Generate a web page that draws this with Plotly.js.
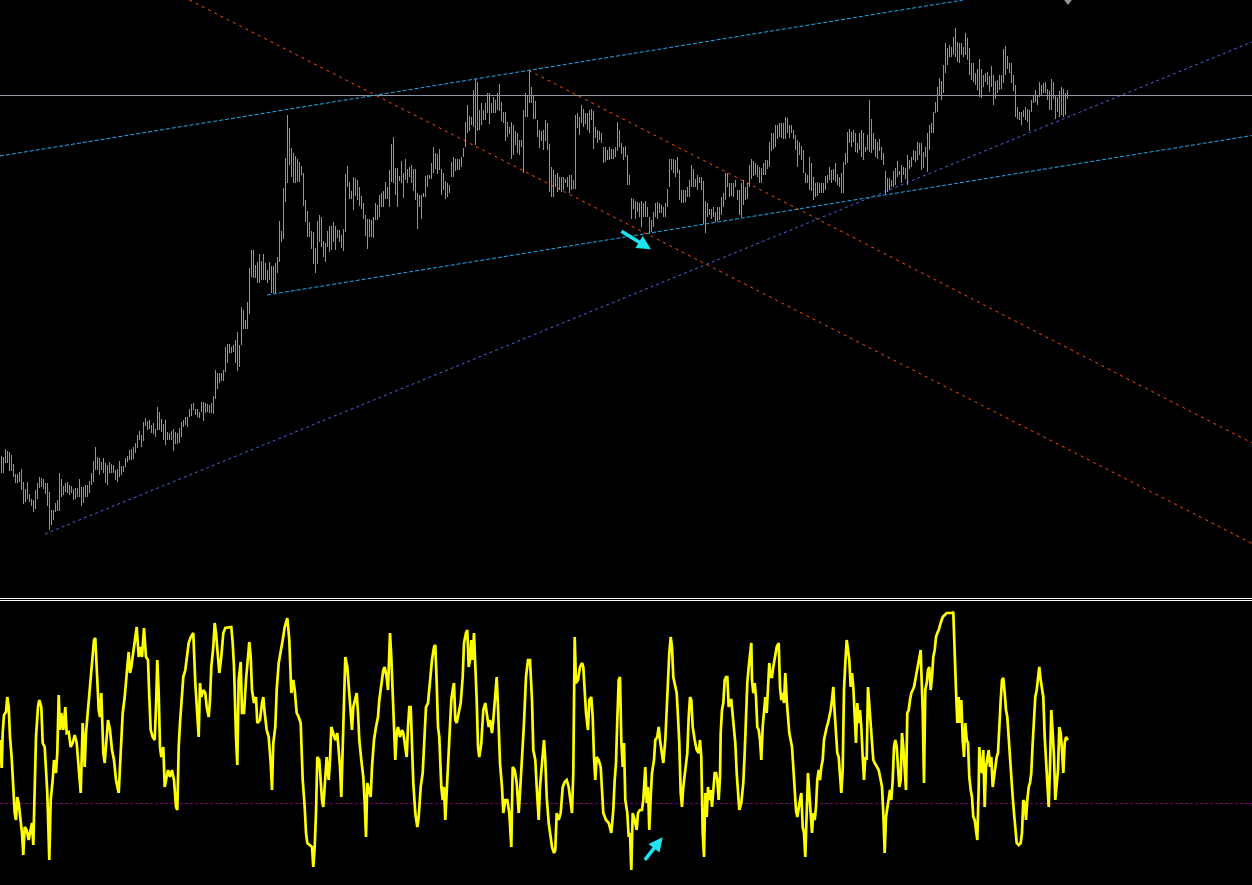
<!DOCTYPE html>
<html><head><meta charset="utf-8">
<script src="https://cdn.plot.ly/plotly-3.0.1.min.js"></script>
<style>html,body{margin:0;padding:0;background:#000;overflow:hidden}#chart{width:1252px;height:885px}</style>
</head><body><div id="chart"></div>
<script>
// ---- price bars (screen-price units, axis reversed: smaller = higher) ----
const highs = [
456,457,449,451,452,455,464,474,474,472,
469,482,489,482,494,499,500,490,483,477,
478,479,483,483,492,510,510,503,500,473,
479,486,483,482,485,486,489,488,488,479,
487,487,485,485,481,473,461,447,457,458,
462,458,463,465,462,464,465,470,469,461,
466,466,458,456,450,449,447,443,435,431,
435,422,418,421,420,425,423,429,407,412,
419,424,420,432,433,431,429,432,433,428,
422,420,417,417,409,404,403,409,409,412,
402,402,403,404,405,403,396,370,373,373,
373,370,347,344,344,347,345,340,332,345,
307,310,320,302,268,250,250,265,262,254,
261,254,263,270,262,266,266,263,257,221,
231,188,158,115,128,148,153,156,159,162,
166,173,200,211,222,231,232,248,221,215,
217,241,243,231,226,226,222,226,230,230,
235,229,174,166,182,191,177,178,180,187,
196,203,215,219,219,220,217,203,205,195,
193,191,182,187,170,144,137,168,168,176,
161,173,159,169,167,165,169,169,193,195,
195,193,176,175,175,163,147,153,154,149,
169,173,181,183,185,162,157,159,159,159,
157,148,122,105,116,117,90,79,82,110,
103,110,103,93,93,103,97,100,93,84,
102,112,112,122,127,122,125,131,133,140,
140,110,93,95,70,87,95,101,120,130,
131,130,120,123,144,167,170,175,173,177,
177,177,179,177,175,175,180,115,113,117,
105,109,113,113,110,109,111,127,130,131,
133,147,147,150,147,149,149,147,122,130,
143,147,146,155,175,198,199,201,202,203,
201,203,201,207,217,220,212,203,202,203,
205,207,203,189,159,159,159,160,157,170,
190,190,190,187,180,165,169,179,175,177,
177,181,201,203,209,209,207,212,207,207,
197,193,173,173,183,183,183,180,190,190,
183,180,187,183,165,159,161,163,165,167,
168,163,160,160,142,133,133,125,125,123,
123,123,117,118,125,125,130,135,140,142,
146,150,173,175,157,163,177,183,182,183,
183,183,176,175,167,170,169,163,174,177,
173,162,153,132,129,132,130,133,143,133,
130,133,147,135,100,119,133,139,142,139,
147,153,171,178,178,180,171,168,161,171,
165,167,168,155,160,157,150,151,142,143,
143,152,147,133,125,123,112,102,87,78,
81,65,43,48,45,47,37,28,42,43,
43,47,33,38,48,63,63,73,69,59,
69,75,73,72,76,66,75,81,80,75,
75,49,46,56,63,63,75,85,107,112,
112,110,107,109,110,100,95,90,95,82,
85,83,82,89,91,79,82,95,97,91,
87,89,93,90];
const lows = [
473,473,463,463,471,471,477,483,483,482,
490,504,502,499,502,506,512,509,499,488,
487,489,494,506,530,525,520,512,511,511,
497,495,492,493,495,493,500,499,497,497,
506,503,497,497,493,485,482,470,470,475,
470,473,483,485,473,473,473,480,482,477,
475,472,467,462,460,460,459,453,448,440,
447,441,426,430,429,433,434,437,430,430,
432,440,445,440,440,440,451,444,444,443,
437,427,425,427,417,416,410,415,417,418,
412,421,413,412,413,413,414,399,389,383,
381,381,372,363,353,353,352,363,371,367,
345,329,329,329,314,277,278,278,283,283,
280,280,280,283,280,293,293,293,273,262,
242,239,202,183,165,177,183,183,182,182,
175,206,222,237,237,249,264,273,264,242,
247,257,262,247,252,250,242,250,238,242,
248,251,232,187,199,199,210,196,200,206,
209,219,236,249,237,237,238,220,220,217,
207,207,199,199,207,182,183,195,207,181,
183,198,180,183,177,183,191,200,229,207,
219,197,197,187,179,179,173,169,174,170,
195,190,199,197,193,177,177,171,170,170,
167,157,147,133,131,125,127,145,131,130,
125,120,120,113,124,113,113,113,110,111,
121,123,141,137,134,159,155,145,153,155,
147,173,117,117,103,103,119,119,137,148,
141,150,141,150,192,197,197,187,192,190,
192,190,183,187,193,190,189,189,128,135,
123,127,124,130,133,120,149,138,143,140,
143,163,162,160,160,159,159,157,151,147,
154,160,157,185,185,219,209,219,212,217,
227,217,217,217,234,232,227,217,219,213,
213,217,217,207,187,170,173,177,173,200,
203,203,202,197,197,187,187,187,190,183,
190,224,233,217,215,219,217,222,221,220,
215,207,200,187,197,196,197,187,200,215,
217,205,200,199,187,179,176,175,177,183,
183,175,175,169,167,151,149,147,139,137,
138,139,139,133,138,133,139,150,167,155,
160,173,183,183,190,191,200,197,196,193,
193,193,190,183,180,183,180,182,185,187,
193,193,165,163,143,147,142,152,153,150,
157,160,152,150,152,153,150,157,159,151,
160,165,194,192,190,187,187,185,177,175,
183,175,179,185,169,167,160,162,160,155,
170,168,157,172,150,133,133,113,112,95,
100,93,73,65,57,57,55,57,62,63,
55,57,55,60,75,80,82,85,90,97,
98,87,82,85,92,87,105,99,93,90,
89,83,75,69,73,83,91,117,119,120,
125,117,120,122,131,112,103,102,105,97,
95,93,93,100,110,110,99,119,112,117,
115,117,115,99];

// ---- oscillator (time position, value) ----
const oscPoints = [
[0,740],[1.7,768],[2.7,733],[4,715],[6,712],[7.3,697],[8.7,707],[10,737],[11.7,758],[13.3,793],[14.7,813],[16,820],[17.3,797],[18.7,803],[20,813],[22,833],[23.3,855],[24.7,827],[26.7,830],[28.7,840],[30,833],[32,823],[33.3,845],[34.7,770],[36,737],[38,707],[39.3,700],[41.3,707],[42.7,743],[44.7,747],[46,767],[47.3,793],[49.3,860],[50.7,800],[52.7,780],[54,760],[56,773],[57.3,753],[58.7,695],[60,730],[61.3,713],[63.3,730],[65.3,707],[66.7,733],[68.7,732],[70.7,747],[72.7,743],[74.7,735],[76.7,743],[78.7,773],[80.7,793],[82.7,723],[84.7,767],[86,733],[88,710],[90,687],[92,657],[94,640],[95.3,638],[96.7,670],[98.7,710],[100,717],[101.3,693],[103.3,753],[104.7,763],[106.7,737],[108,720],[110,730],[112,750],[114,760],[116,780],[118.7,793],[120.7,757],[122.7,713],[124.7,697],[126,677],[127.3,667],[128.7,652],[130,673],[131.3,667],[133.3,650],[135.3,637],[136.7,627],[138.7,657],[140,647],[142,657],[144,628],[146,657],[148,660],[149.3,697],[150.7,730],[152.7,737],[154.7,740],[156,707],[157.3,660],[158.7,693],[160,747],[161.3,757],[163.3,747],[164.7,787],[166,780],[168,770],[170,777],[172,770],[174,780],[176,807],[177.3,810],[178.7,747],[180,723],[182,687],[183.3,677],[185.3,670],[187.3,650],[188.7,643],[190.7,637],[193.3,633],[195.3,683],[196.7,707],[198.7,737],[200,683],[201.3,697],[203.3,690],[205.3,693],[206.7,707],[208.7,717],[210,700],[211.3,667],[213.3,647],[214.7,623],[216,633],[217.3,650],[219.3,673],[221.3,657],[223.3,633],[225.3,628],[228.7,627],[231.3,627],[232.7,643],[234,667],[236,737],[237.3,765],[238.7,680],[240.7,662],[242,713],[244,713],[246,680],[248,653],[249.3,642],[250.7,657],[252,690],[254,703],[256,697],[257.3,723],[260,720],[262,703],[263.3,697],[264.7,713],[266.7,730],[268.7,737],[270.7,763],[272,790],[273.3,743],[275.3,727],[276.7,690],[278.7,663],[280.7,653],[282.7,640],[284.7,627],[287.3,618],[289.3,640],
[291.3,693],[293.3,680],[294.7,690],[296.7,713],[298.7,717],[300.7,723],[302.7,780],[304.7,807],[306,833],[307.3,843],[310,845],[312,847],[313.3,867],[314.7,847],[316,813],[317.3,757],[319.3,760],[320.7,787],[322,800],[323.3,807],[324.7,790],[326.7,757],[328.7,780],[330,760],[331.3,727],[333.3,733],[335.3,740],[337.3,733],[338.7,747],[340,767],[341.3,797],[342.7,740],[344,707],[345.3,657],[347.3,667],[348.7,687],[350.7,710],[352,730],[353.3,707],[355.3,697],[356.7,693],[358,713],[359.3,740],[361.3,760],[363.3,777],[364.7,803],[366,837],[367.3,783],[368.7,790],[370.7,797],[372,767],[374,740],[376,727],[378,717],[379.3,700],[381.3,683],[383.3,670],[384.7,667],[386.7,677],[388,690],[390,633],[391.3,657],[392.7,690],[394,727],[395.3,760],[396.7,733],[398,727],[400,737],[402,730],[403.3,733],[404.7,743],[406.7,757],[408,727],[409.3,707],[410.7,707],[412,740],[413.3,783],[415.3,813],[417.3,827],[418.7,817],[420.7,787],[422.7,773],[424.7,733],[426,707],[428,703],[430,680],[432,660],[434,647],[435.3,645],[436.7,683],[438,727],[439.3,737],[441.3,787],[442.7,800],[444,787],[445.3,820],[446.7,793],[448,770],[450,733],[451.3,700],[452.7,690],[454,683],[455.3,720],[456.7,723],[458.7,713],[460.7,703],[462.7,677],[464,643],[466,633],[467.3,630],[468.7,667],[470,660],[471.3,640],[472.7,660],[474,633],[475.3,660],[476.7,700],[478,747],[479.3,757],[481.3,743],[483.3,710],[485.3,703],[486.7,713],[488.7,727],[490,720],[492,733],[493.3,720],[495.3,697],[496.7,677],[498,707],[500,763],[502,787],[503.3,813],[505.3,800],[507.3,800],[509.3,813],[511.3,847],[512.7,767],[514.7,770],[516.7,783],[518.7,813],[520,793],[522,760],[524,723],[526,677],[528,660],[530,660],[532,700],[533.3,750],[535.3,760],[536.7,787],[538.7,820],[540,787],[542,767],[544,740],[545.3,760],[546.7,797],[548.7,823],[550,833],[552,847],[554,853],[555.3,850],[556.7,813],[558.7,820],[560.7,813],[562.7,787],[564.7,782],[566.7,780],[568.7,787],[570,800],[572,813],[573.3,773],[574.7,637],[576,683],[578,680],[580,667],[582,663],[583.3,667],[584.7,700],[586,713],[588,730],[589.3,700],[591.3,697],[592.7,717],[594,757],[595.3,780],[596.7,757],[598.7,760],[600.7,767],[602,790],[603.3,813],[606,820],[608.7,823],[611.3,833],[613.3,810],[614.7,780],[616,763],[617.3,720],[618.7,680],[620,677],[621.3,740],[622.7,767],[624,743],[625.3,800],[627.3,813],[628.7,837],[630,833],[631.3,870],[632.7,813],[634.7,820],[636.7,830],[638,813],[640,810],[642,810],[643.3,800],[645.3,767],[646.7,803],[648,787],[649.3,830],[650.7,797],[652,773],[654,760],[655.3,740],[657.3,737],[658.7,727],[660,740],[662,757],[663.3,763],[665.3,740],[666.7,707],[668,683],[669.3,653],[670.7,637],[672,647],[673.3,677],[675.3,687],[676.7,693],[678,717],[679.3,743],[680.7,793],[682,807],[683.3,787],[685.3,767],[687.3,753],[688.7,717],[690,697],[691.3,700],[692.7,727],[694.7,740],[696.7,750],[698.7,753],
[700,740],[701.3,757],[702.7,833],[704,857],[705.3,793],[706.7,817],[708,787],[709.3,800],[710.7,790],[712,807],[713.3,793],[714.7,773],[716,773],[717.3,780],[718.7,800],[720,777],[720.7,733],[722,710],[723.3,703],[724.7,680],[726,677],[727.3,677],[728.7,707],[730,700],[731.3,700],[732.7,713],[734,727],[735.3,743],[736.7,773],[738,793],[739.3,810],[741.3,803],[743.3,783],[744.7,753],[746,710],[747.3,683],[748.7,667],[750,653],[751.3,643],[752,680],[753.3,693],[754.7,683],[756,697],[757.3,727],[758.7,730],[760,740],[761.3,760],[762.7,727],[764,713],[765.3,697],[766.7,713],[768,683],[769.3,663],[770.7,677],[772,677],[773.3,667],[775.3,653],[776.7,647],[778.7,643],[780,687],[781.3,700],[782.7,693],[784,703],[785.3,673],[786.7,700],[788,720],[789.3,733],[790.7,740],[792,747],[793.3,767],[794.7,793],[796,810],[797.3,817],[798.7,810],[800,800],[801.3,793],[802.7,827],[804,833],[805.3,857],[806.7,813],[808,773],[809.3,793],[810.7,813],[812,833],[813.3,813],[814.7,820],[816,807],[817.3,780],[818.7,770],[820,780],[821.3,767],[822.7,760],[824,740],[825.3,733],[826.7,727],[828,723],[829.3,717],[830.7,710],[832,700],[833.3,687],[834.7,713],[836,740],[837.3,753],[838.7,757],[840,773],[841.3,793],[842.7,770],[844,690],[845.3,663],[846.7,640],[848,650],[849.3,660],[850.7,687],[852,673],[853.3,687],[854.7,717],[856,743],[857.3,703],[858.7,723],[860,710],[861.3,727],[862.7,757],[864,780],[865.3,757],[866.7,760],[868,687],[869.3,707],[870.7,727],[872,743],[873.3,760],[874.7,763],[876.7,767],[878.7,770],[880.7,780],[882,787],[883.3,813],[884.7,853],[886,817],[887.3,807],[888.7,800],[890,790],[891.3,800],[892.7,780],[894,747],[895.3,740],[896.7,747],[898,767],[899.3,787],[900.7,780],[902,733],[903.3,747],[904.7,773],[906,790],[907.3,713],[908.7,710],[910,700],[911.3,693],[912.7,690],[914,687],[915.3,680],[916.7,673],[918,667],[919.3,657],[920.7,650],[921.3,670],[922.7,710],[924,783],[925.3,690],[926.7,683],[928,670],[929.3,667],[930.7,690],[932,677],[933.3,657],[934.7,650],[936,637],[937.3,633],[938.7,630],[940.7,623],[942.7,617],[944.7,615],[946.7,613],[949.3,613],[952,613],[953.3,612],[954.7,660],[956,690],[957.3,723],[958.7,697],[960,723],[961.3,700],[962.7,740],[964,757],[965.3,723],[966.7,740],[968,743],[969.3,777],[970.7,790],[972,797],[973.3,817],[974.7,820],[976,830],[977.3,840],[978.7,787],[979.3,747],[980.7,767],[982,773],[983.3,750],[984.7,807],[986,767],[987.3,757],[988.7,750],[990,767],[991.3,757],[992.7,787],[994,777],[995.3,763],[996.7,757],[998,753],[999.3,723],[1000.7,700],[1002,680],[1003.3,678],[1004.7,693],[1006,710],[1007.3,717],[1008.7,740],[1010,763],[1011.3,780],[1012.7,797],[1014,813],[1015.3,833],[1016.7,843],[1018.7,845],[1020.7,843],[1022,833],[1023.3,800],[1024.7,803],[1026,820],[1027.3,800],[1028.7,787],[1030,783],[1031.3,773],[1032.7,743],[1034,713],[1035.3,697],[1036.7,690],[1038,677],[1039.3,667],[1040.7,680],[1042,687],[1043.3,697],[1044.7,737],[1046,763],[1047.3,787],[1048.7,807],[1050,767],[1051.3,710],[1052.7,733],[1054,757],[1055.3,800],[1056.7,780],[1058,770],[1059.3,727],[1060.7,733],[1062,750],[1063.3,773],[1064.7,743],[1066,737],[1068,740]
];

// ---- trend lines (bar index, price) ----
const cyanUpperX = [-0.75, 480.75],  cyanUpperY = [156, 0];
const cyanLowerX = [132.75, 625.25], cyanLowerY = [295, 135.5];
const blueX      = [21.75, 625.25],  blueY      = [534, 42];
const redAX      = [93.95, 625.25],  redAY      = [0, 543.4];
const redBX      = [263.75, 625.25], redBY      = [70.5, 443];
const hLevel = 95.5;
const oscLevel = 803.5;
const markerX = [533.25], markerY = [-1];
const arrowPrice = {x: 324.75, y: 249.3};
const arrowOsc = {x: 662.7, y: 837.3};

// ---- build ----
const bx = [], by = [];
for (let i = 0; i < highs.length; i++) { bx.push(i, i, null); by.push(lows[i], highs[i], null); }

function dl(x, y, color, dash) {
  return {type:'scatter', mode:'lines', x:x, y:y, xaxis:'x', yaxis:'y',
          line:{color:color, width:1, dash:dash}, hoverinfo:'skip'};
}

const traces = [
  dl(cyanUpperX, cyanUpperY, '#1eaaf0', '4px,2px'),
  dl(cyanLowerX, cyanLowerY, '#1eaaf0', '4px,2px'),
  dl(blueX, blueY, '#4466dd', '3px,3px'),
  dl(redAX, redAY, '#ff4a10', '3px,4px'),
  dl(redBX, redBY, '#ff4a10', '3px,4px'),
  {type:'scatter', mode:'lines', x:bx, y:by, xaxis:'x', yaxis:'y', connectgaps:false,
   line:{color:'#33dd1e', width:1}, hoverinfo:'skip'},
  {type:'scatter', mode:'markers', x:markerX, y:markerY, xaxis:'x', yaxis:'y', cliponaxis:true,
   marker:{symbol:'triangle-down', size:12, color:'#8c96a0'}, hoverinfo:'skip'},
  {type:'scatter', mode:'lines', x:oscPoints.map(p=>p[0]), y:oscPoints.map(p=>p[1]),
   xaxis:'x2', yaxis:'y2', line:{color:'#ffff00', width:2.7}, hoverinfo:'skip'}
];

const layout = {
  width:1252, height:885, margin:{l:0,r:0,t:0,b:0,pad:0},
  paper_bgcolor:'#000000', plot_bgcolor:'#000000', showlegend:false,
  xaxis:{range:[-0.75, 625.25], visible:false, anchor:'y', domain:[0,1], fixedrange:true},
  yaxis:{range:[597, 0], visible:false, domain:[1-597/885, 1], anchor:'x', fixedrange:true},
  xaxis2:{range:[0, 1252], visible:false, anchor:'y2', domain:[0,1], fixedrange:true},
  yaxis2:{range:[885, 601], visible:false, domain:[0, 1-601/885], anchor:'x2', fixedrange:true},
  shapes:[
    {type:'line', xref:'paper', x0:0, x1:1, yref:'y', y0:hLevel, y1:hLevel, line:{color:'#8f98a3', width:1}, layer:'below'},
    {type:'line', xref:'paper', x0:0, x1:1, yref:'y2', y0:oscLevel, y1:oscLevel, line:{color:'#800080', width:1, dash:'3px,2px'}, layer:'below'},
    {type:'line', xref:'paper', x0:0, x1:1, yref:'paper', y0:1-598.5/885, y1:1-598.5/885, line:{color:'#ffffff', width:1}},
    {type:'line', xref:'paper', x0:0, x1:1, yref:'paper', y0:1-600.5/885, y1:1-600.5/885, line:{color:'#ffffff', width:1}}
  ],
  annotations:[
    {x:arrowPrice.x, y:arrowPrice.y, xref:'x', yref:'y', text:'', showarrow:true, ax:-31, ay:-19,
     arrowhead:2, arrowsize:0.8, arrowwidth:3.5, arrowcolor:'#1ee6f0', standoff:0},
    {x:arrowOsc.x, y:arrowOsc.y, xref:'x2', yref:'y2', text:'', showarrow:true, ax:-19, ay:24,
     arrowhead:2, arrowsize:0.8, arrowwidth:3.5, arrowcolor:'#1ee6f0', standoff:0}
  ]
};

Plotly.newPlot('chart', traces, layout, {staticPlot:true, displayModeBar:false});
</script>
</body></html>
